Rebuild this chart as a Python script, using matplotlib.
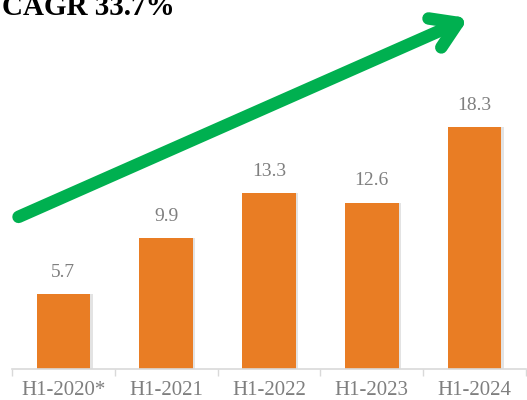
import matplotlib.pyplot as plt
from matplotlib.patches import FancyArrowPatch

# Data
categories = ["H1-2020*", "H1-2021", "H1-2022", "H1-2023", "H1-2024"]
values = [5.7, 9.9, 13.3, 12.6, 18.3]
title = "CAGR 33.7%"

bar_color = "#E97D24"
text_gray = "#7F7F7F"
arrow_green = "#00B050"

W, H = 527, 400
fig = plt.figure(figsize=(W / 100, H / 100), dpi=100)
ax = fig.add_axes([12 / W, 31 / H, 514 / W, 264 / H])

x = range(len(categories))
# soft shadow behind the bars
ax.bar([i + 0.02 for i in x], values, width=0.53, color="#c8c8c8", alpha=0.5, zorder=1)
ax.bar(x, values, width=0.52, color=bar_color, zorder=2)

for i, v in zip(x, values):
    ax.text(i, v + 1.0, f"{v}", ha="center", va="bottom", fontsize=14,
            color=text_gray, family="Liberation Serif")

ax.set_xlim(-0.5, len(categories) - 0.5)
ax.set_ylim(0, 20)
ax.set_yticks([])
ax.set_xticks([i - 0.5 for i in range(len(categories) + 1)], minor=False)
ax.set_xticklabels([])
ax.set_xticks(list(x), minor=True)
ax.set_xticklabels(categories, minor=True, fontsize=15, color=text_gray,
                   family="Liberation Serif")
ax.tick_params(axis="x", which="major", length=5, color="#d9d9d9", width=1)
ax.tick_params(axis="x", which="minor", length=0, pad=8.5)
for s in ["top", "right", "left"]:
    ax.spines[s].set_visible(False)
ax.spines["bottom"].set_color("#d9d9d9")
ax.spines["bottom"].set_linewidth(1.2)

# growth arrow
arrow = FancyArrowPatch((16, H - 218), (471, H - 17), transform=None,
                        arrowstyle="->,head_length=1.5,head_width=0.95",
                        mutation_scale=12, color=arrow_green, lw=9,
                        capstyle="round", joinstyle="round")
fig.patches.append(arrow)

fig.text(2 / W, 1 - 15 / H, title, fontsize=21, fontweight="bold",
         family="Liberation Serif", ha="left", va="baseline", color="black")

fig.savefig("out.png", dpi=100)
